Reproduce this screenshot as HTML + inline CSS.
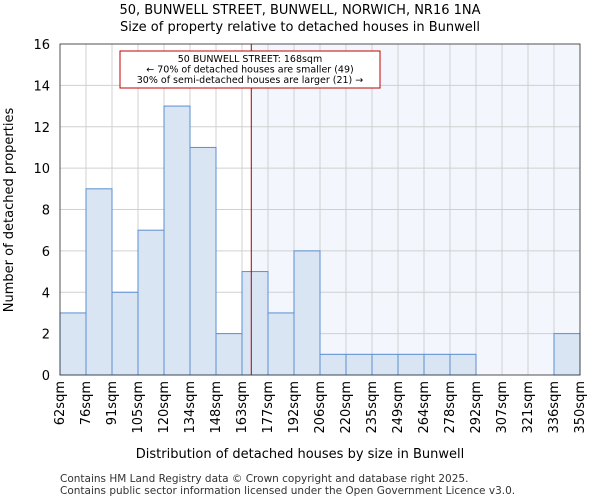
<!DOCTYPE html>
<html><head><meta charset="utf-8"><style>
body{margin:0;background:#fff;font-family:"DejaVu Sans","Liberation Sans",sans-serif;}
</style></head><body>
<svg id="c" width="600" height="500" xmlns="http://www.w3.org/2000/svg" font-family="DejaVu Sans, Liberation Sans, sans-serif"></svg>
<script>
const binLabels=["62sqm","76sqm","91sqm","105sqm","120sqm","134sqm","148sqm","163sqm","177sqm","192sqm","206sqm","220sqm","235sqm","249sqm","264sqm","278sqm","292sqm","307sqm","321sqm","336sqm","350sqm"];
const counts=[3,9,4,7,13,11,2,5,3,6,1,1,1,1,1,1,0,0,0,2];
const yTicks=[0,2,4,6,8,10,12,14,16];
const marker=168;
const binEdges=[62,76,91,105,120,134,148,163,177,192,206,220,235,249,264,278,292,307,321,336,350];
const svg=document.getElementById('c');const NS='http://www.w3.org/2000/svg';
const L=60,R=580,T=44,B=375;
const bw=(R-L)/counts.length;
const xs=i=>L+i*bw;
const ys=v=>B-(v/16)*(B-T);
function xv(v){for(let i=0;i<binEdges.length-1;i++){if(v>=binEdges[i]&&v<=binEdges[i+1])return xs(i)+bw*(v-binEdges[i])/(binEdges[i+1]-binEdges[i]);}return R;}
function el(t,a,txt){const e=document.createElementNS(NS,t);for(const k in a)e.setAttribute(k,a[k]);if(txt!=null)e.textContent=txt;svg.appendChild(e);return e;}
let e;
const mx=xv(marker);
e=el('rect',{x:mx,y:T,width:R-mx,height:B-T,fill:'#f3f6fd'});


yTicks.forEach(t=>{e=el('line',{x1:L,x2:R,y1:ys(t),y2:ys(t),stroke:'#d0d0d0','stroke-width':1});

});
binLabels.forEach((b,i)=>{e=el('line',{x1:xs(i),x2:xs(i),y1:T,y2:B,stroke:'#d0d0d0','stroke-width':1});

});
counts.forEach((c,i)=>{if(c<=0)return;e=el('rect',{x:xs(i),y:ys(c),width:bw,height:B-ys(c),fill:'#dae5f4',stroke:'#5b8fd0','stroke-width':1});

});
e=el('line',{x1:mx,x2:mx,y1:T,y2:B,stroke:'#b00000','stroke-width':1});


e=el('rect',{x:L,y:T,width:R-L,height:B-T,fill:'none',stroke:'#333','stroke-width':0.8});


yTicks.forEach(t=>{e=el('text',{x:50,y:ys(t)+5,'text-anchor':'end','font-size':13},t);

});
binLabels.forEach((b,i)=>{const x=xs(i)+4;e=el('text',{x:x,y:381,'text-anchor':'end','font-size':13,transform:`rotate(-90 ${x} 381)`},b);

});
e=el('rect',{x:120,y:51,width:260,height:37,fill:'#fff',stroke:'#c00000','stroke-width':1});


["50 BUNWELL STREET: 168sqm","← 70% of detached houses are smaller (49)","30% of semi-detached houses are larger (21) →"].forEach((s,i)=>{e=el('text',{x:250,y:62+i*10.5,'text-anchor':'middle','font-size':9.5},s);

});
e=el('text',{x:300,y:14,'text-anchor':'middle','font-size':13},'50, BUNWELL STREET, BUNWELL, NORWICH, NR16 1NA');


e=el('text',{x:300,y:31,'text-anchor':'middle','font-size':13},'Size of property relative to detached houses in Bunwell');


e=el('text',{x:300,y:458,'text-anchor':'middle','font-size':13},'Distribution of detached houses by size in Bunwell');


e=el('text',{x:13,y:210,'text-anchor':'middle','font-size':13,transform:'rotate(-90 13 210)'},'Number of detached properties');


e=el('text',{x:60,y:482,'font-size':10.5,fill:'#333'},'Contains HM Land Registry data © Crown copyright and database right 2025.');


e=el('text',{x:60,y:494,'font-size':10.5,fill:'#333'},'Contains public sector information licensed under the Open Government Licence v3.0.');


</script>
</body></html>
